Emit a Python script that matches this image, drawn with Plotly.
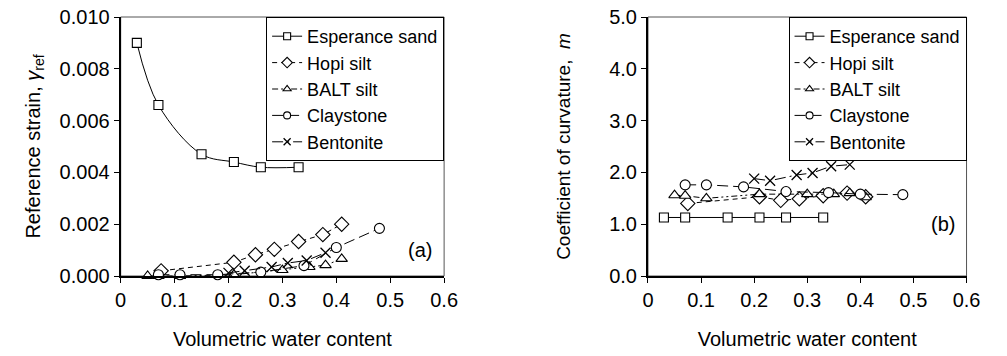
import plotly.graph_objects as go

# ---------------- data ----------------
esp_x = [0.03, 0.07, 0.15, 0.21, 0.26, 0.33]
esp_ref = [0.0090, 0.0066, 0.0047, 0.0044, 0.0042, 0.0042]
esp_m = [1.13, 1.13, 1.13, 1.13, 1.13, 1.13]

hopi_x = [0.075, 0.21, 0.25, 0.285, 0.33, 0.375, 0.41]
hopi_ref = [0.0002, 0.00053, 0.00082, 0.00103, 0.00133, 0.0016, 0.0020]
hopi_m = [1.40, 1.53, 1.46, 1.49, 1.55, 1.60, 1.53]

balt_x = [0.05, 0.07, 0.11, 0.21, 0.30, 0.35, 0.38, 0.41]
balt_ref = [0.0, 0.0, 0.0, 0.00005, 0.00023, 0.00035, 0.00042, 0.00066]
balt_m = [1.56, 1.55, 1.50, 1.58, 1.58, 1.58, 1.60, 1.52]

clay_x = [0.07, 0.11, 0.18, 0.26, 0.34, 0.40, 0.48]
clay_ref = [0.00005, 0.00005, 0.00005, 0.00015, 0.0004, 0.0011, 0.00184]
clay_m = [1.76, 1.76, 1.72, 1.63, 1.61, 1.58, 1.57]

bent_x = [0.20, 0.23, 0.28, 0.31, 0.345, 0.38]
bent_ref = [0.00012, 0.0002, 0.00035, 0.0005, 0.0006, 0.0009]
bent_m = [1.88, 1.84, 1.95, 1.99, 2.12, 2.15]

names = ["Esperance sand", "Hopi silt", "BALT silt", "Claystone", "Bentonite"]
xs = [esp_x, hopi_x, balt_x, clay_x, bent_x]
refs = [esp_ref, hopi_ref, balt_ref, clay_ref, bent_ref]
ms = [esp_m, hopi_m, balt_m, clay_m, bent_m]

symbols = ["square", "diamond", "triangle-up", "circle", "x-thin"]
msizes = [9, 11, 10, 10, 10]
lsizes = [7, 8, 7, 7, 7]
dashes = ["solid", "5px,4px", "6px,3px,2px,3px,2px,3px", "11px,5px", "11px,4px,2px,4px"]

FONT = "Liberation Sans, Arial, sans-serif"


def mk(i, size):
    if symbols[i] == "x-thin":
        return dict(symbol="x-thin", size=size, color="black",
                    line=dict(color="black", width=1.3))
    return dict(symbol=symbols[i], size=size, color="white",
                line=dict(color="black", width=1.1))


fig = go.Figure()

for i in range(5):
    fig.add_trace(go.Scatter(
        x=xs[i], y=refs[i], name=names[i], mode="lines+markers",
        line=dict(color="black", width=1, dash=dashes[i],
                  shape="spline" if i == 0 else "linear", smoothing=1.0),
        marker=mk(i, msizes[i]), xaxis="x", yaxis="y", showlegend=False,
        cliponaxis=False))
    fig.add_trace(go.Scatter(
        x=xs[i], y=ms[i], name=names[i], mode="lines+markers",
        line=dict(color="black", width=1, dash=dashes[i]),
        marker=mk(i, msizes[i]), xaxis="x2", yaxis="y2", showlegend=False,
        cliponaxis=False))

# legend entries (smaller symbols, as in the reference)
for leg, xa, ya in [("legend", "x", "y"), ("legend2", "x2", "y2")]:
    for i in range(5):
        fig.add_trace(go.Scatter(
            x=[None], y=[None], name=names[i], mode="lines+markers",
            line=dict(color="black", width=1, dash=dashes[i]),
            marker=mk(i, lsizes[i]), xaxis=xa, yaxis=ya, legend=leg,
            showlegend=True))

W, H = 1007, 356
L1, R1 = 117 / W, 447 / W
L2, R2 = 655 / W, 980 / W

axis_common = dict(showline=True, linecolor="black", linewidth=2,
                   ticks="outside", ticklen=5, tickwidth=1, tickcolor="black",
                   showgrid=False, zeroline=False,
                   tickfont=dict(family=FONT, size=20, color="black"))

leg_common = dict(y=1, xanchor="right", yanchor="top",
                  bgcolor="white", bordercolor="black", borderwidth=1,
                  font=dict(family=FONT, size=18, color="black"),
                  tracegroupgap=0, itemwidth=30)

fig.update_layout(
    width=W, height=H,
    margin=dict(l=0, r=0, t=17, b=80),
    paper_bgcolor="white", plot_bgcolor="white",
    font=dict(family=FONT, size=20, color="black"),
    xaxis=dict(domain=[L1, R1], range=[0, 0.6], dtick=0.1, tick0=0,
               title=dict(text="Volumetric water content", standoff=22,
                          font=dict(size=20)), anchor="y", **axis_common),
    yaxis=dict(range=[0, 0.010], dtick=0.002, tickformat=".3f", anchor="x",
               title=dict(text="Reference strain, <i>γ</i><sub>ref</sub>",
                          standoff=14, font=dict(size=20)), **axis_common),
    xaxis2=dict(domain=[L2, R2], range=[0, 0.6], dtick=0.1, tick0=0,
                title=dict(text="Volumetric water content", standoff=22,
                           font=dict(size=20)), anchor="y2", **axis_common),
    yaxis2=dict(range=[0, 5], dtick=1, tickformat=".1f", anchor="x2",
                title=dict(text="Coefficient of curvature,  <i>m</i>",
                           standoff=34, font=dict(size=19)), **axis_common),
    legend=dict(x=R1, **leg_common),
    legend2=dict(x=R2, **leg_common),
    showlegend=True,
)

# thin frame (top/right) around each plot area
for xr, yr in [("x domain", "y domain"), ("x2 domain", "y2 domain")]:
    fig.add_shape(type="rect", xref=xr, yref=yr, x0=0, x1=1, y0=0, y1=1,
                  line=dict(color="#555555", width=1), layer="below")

fig.add_annotation(x=0.555, y=0.0010, xref="x", yref="y", text="(a)",
                   showarrow=False, font=dict(family=FONT, size=20, color="black"))
fig.add_annotation(x=0.555, y=1.0, xref="x2", yref="y2", text="(b)",
                   showarrow=False, font=dict(family=FONT, size=20, color="black"))

fig.write_html("out.html")
